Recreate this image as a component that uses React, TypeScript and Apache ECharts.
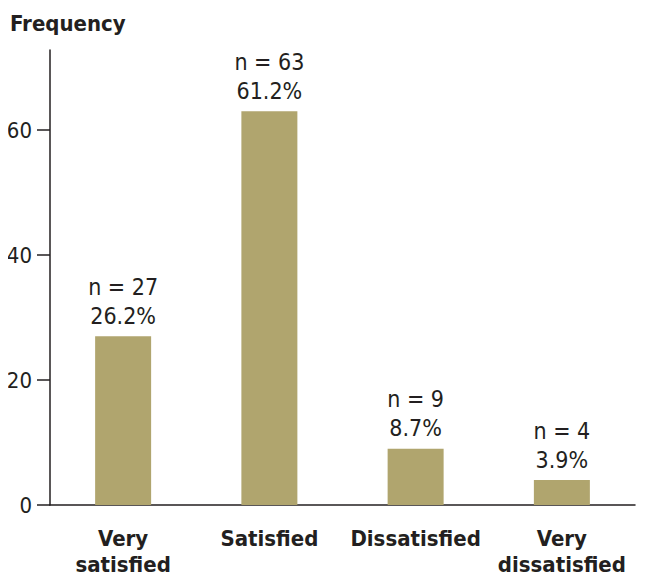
import React, { useEffect, useRef } from "react";
import * as echarts from "echarts";

const categories = ["Very\nsatisfied", "Satisfied", "Dissatisfied", "Very\ndissatisfied"];
const counts = [27, 63, 9, 4];
const percents = ["26.2", "61.2", "8.7", "3.9"];
const yTicks = [0, 20, 40, 60];

const FONT = "'DejaVu Sans Condensed', 'Liberation Sans Narrow', Roboto, sans-serif";
const AXIS = "#231f20";

export default function App() {
  const ref = useRef<HTMLDivElement>(null);
  useEffect(() => {
    if (!ref.current) return;
    const chart = echarts.init(ref.current, null, { renderer: "svg" });
    chart.setOption({
      animation: false,
      backgroundColor: "#ffffff",
      title: {
        text: "Frequency",
        left: 5,
        top: 7,
        padding: 5,
        textStyle: { fontFamily: FONT, fontWeight: "bold", fontSize: 22, color: AXIS },
      },
      grid: { left: 50, right: 12, top: 50, bottom: 80, containLabel: false, outerBoundsMode: "none" },
      xAxis: {
        type: "category",
        data: categories,
        axisLine: { lineStyle: { color: AXIS, width: 1.5 } },
        axisTick: { alignWithLabel: true, length: 14, lineStyle: { color: AXIS, width: 1.5 } },
        axisLabel: {
          fontFamily: FONT,
          fontWeight: "bold",
          fontSize: 22,
          lineHeight: 26,
          color: AXIS,
          margin: 20,
          interval: 0,
        },
      },
      yAxis: {
        type: "value",
        min: 0,
        max: 72.8,
        interval: 20,
        splitLine: { show: false },
        axisLine: { show: true, lineStyle: { color: AXIS, width: 1.5 } },
        axisTick: { show: true, length: 13, customValues: yTicks, lineStyle: { color: AXIS, width: 1.5 } },
        axisLabel: {
          customValues: yTicks,
          fontFamily: FONT,
          fontSize: 22,
          color: AXIS,
          margin: 18,
        },
      },
      series: [
        {
          type: "bar",
          data: counts,
          barWidth: 56,
          itemStyle: { color: "#b0a56e" },
          label: {
            show: true,
            position: "top",
            distance: 6,
            formatter: (p: any) => `n = ${p.value}\n${percents[p.dataIndex]}%`,
            fontFamily: FONT,
            fontSize: 23,
            lineHeight: 29,
            color: AXIS,
          },
        },
      ],
    });
    return () => chart.dispose();
  }, []);
  return <div ref={ref} style={{ width: 647, height: 585, margin: -8 }} />;
}
